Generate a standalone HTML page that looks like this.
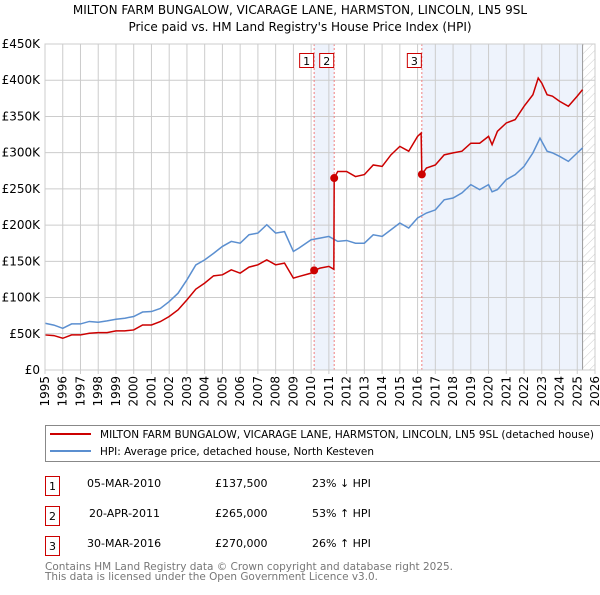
<!DOCTYPE html>
<html><head><meta charset="utf-8"><style>
body{margin:0;background:#fff;font-family:"Liberation Sans",sans-serif;}
svg text{font-family:"DejaVu Sans","Liberation Sans",sans-serif;}
</style></head><body>
<svg id="chart" width="600" height="590" viewBox="0 0 600 590" xmlns="http://www.w3.org/2000/svg">
<defs><pattern id="hatch" patternUnits="userSpaceOnUse" width="6" height="6" patternTransform="rotate(45)"><line x1="0" y1="0" x2="0" y2="6" stroke="#ccc" stroke-width="1"/></pattern></defs>
<text x="300" y="14" text-anchor="middle" font-size="12">MILTON FARM BUNGALOW, VICARAGE LANE, HARMSTON, LINCOLN, LN5 9SL</text>
<text x="300" y="31" text-anchor="middle" font-size="12">Price paid vs. HM Land Registry's House Price Index (HPI)</text>
<g id="plot"></g>
<g>
<rect x="45.5" y="425.5" width="560" height="36" fill="#fff" stroke="#888"/>
<line x1="50" y1="434" x2="91" y2="434" stroke="#cc0000" stroke-width="2"/>
<text x="100" y="438" font-size="11" textLength="494" lengthAdjust="spacingAndGlyphs">MILTON FARM BUNGALOW, VICARAGE LANE, HARMSTON, LINCOLN, LN5 9SL (detached house)</text>
<line x1="50" y1="451" x2="91" y2="451" stroke="#5b8fd0" stroke-width="2"/>
<text x="100" y="455" font-size="11" textLength="274" lengthAdjust="spacingAndGlyphs">HPI: Average price, detached house, North Kesteven</text>
</g>
<g font-size="11">
<rect x="45.5" y="476.5" width="14" height="19" fill="none" stroke="#cc0000"/><text x="52.5" y="490" text-anchor="middle">1</text>
<text x="87" y="487">05-MAR-2010</text><text x="215" y="487">£137,500</text><text x="312" y="487">23% ↓ HPI</text>
<rect x="45.5" y="506.5" width="14" height="19" fill="none" stroke="#cc0000"/><text x="52.5" y="520" text-anchor="middle">2</text>
<text x="89" y="517">20-APR-2011</text><text x="215" y="517">£265,000</text><text x="312" y="517">53% ↑ HPI</text>
<rect x="45.5" y="536.5" width="14" height="19" fill="none" stroke="#cc0000"/><text x="52.5" y="550" text-anchor="middle">3</text>
<text x="87" y="547">30-MAR-2016</text><text x="215" y="547">£270,000</text><text x="312" y="547">26% ↑ HPI</text>
</g>
<text x="45" y="570" font-size="11" fill="#777" textLength="408" lengthAdjust="spacingAndGlyphs">Contains HM Land Registry data © Crown copyright and database right 2025.</text>
<text x="45" y="580" font-size="11" fill="#777" textLength="333" lengthAdjust="spacingAndGlyphs">This data is licensed under the Open Government Licence v3.0.</text>
</svg>
<script>
const yearTicks=[1995,1996,1997,1998,1999,2000,2001,2002,2003,2004,2005,2006,2007,2008,2009,2010,2011,2012,2013,2014,2015,2016,2017,2018,2019,2020,2021,2022,2023,2024,2025,2026];
const valueTicks=[0,50000,100000,150000,200000,250000,300000,350000,400000,450000];
const valueLabels=["£0","£50K","£100K","£150K","£200K","£250K","£300K","£350K","£400K","£450K"];
const hpiDates=[1995,1995.5,1996,1996.5,1997,1997.5,1998,1998.5,1999,1999.5,2000,2000.5,2001,2001.5,2002,2002.5,2003,2003.5,2004,2004.5,2005,2005.5,2006,2006.5,2007,2007.5,2008,2008.5,2009,2009.3,2010,2010.5,2011,2011.5,2012,2012.5,2013,2013.5,2014,2014.5,2015,2015.5,2016,2016.5,2017,2017.5,2018,2018.5,2019,2019.5,2020,2020.2,2020.5,2021,2021.5,2022,2022.5,2022.9,2023.3,2023.6,2024,2024.5,2025,2025.3];
const hpiValues=[64.5,62,57.6,63.6,63.6,67,66,67.8,70,71.5,73.8,80,80.7,85,94.5,106,124.5,145,152,161,170.6,177.5,175,186.7,189,200.5,189,191,163.7,168,179.8,182,184.4,177.5,178.8,175,175,186.6,184.4,193.6,202.9,196,209.8,216.7,221,235,237.4,244.4,255.9,249,255.9,246,249,262.8,269.7,281,299.7,320,302,299.7,295,288,299.7,306.5];
const priceDates=[1995,1995.5,1996,1996.5,1997,1997.5,1998,1998.5,1999,1999.5,2000,2000.5,2001,2001.5,2002,2002.5,2003,2003.5,2004,2004.5,2005,2005.5,2006,2006.5,2007,2007.5,2008,2008.5,2009,2009.3,2010,2010.17,2010.5,2011,2011.28,2011.3,2011.5,2012,2012.5,2013,2013.5,2014,2014.5,2015,2015.5,2016,2016.2,2016.24,2016.5,2017,2017.5,2018,2018.5,2019,2019.5,2020,2020.2,2020.5,2021,2021.5,2022,2022.5,2022.8,2023,2023.3,2023.6,2024,2024.5,2025,2025.3];
const priceValues=[48.4,47.5,43.8,48.4,48.4,50.7,51.6,51.6,54,54,55.3,62.2,62.2,66.8,73.8,83,96.8,111.6,119.9,130,131.4,138.3,133.7,142,145.2,152,145.2,147.5,126.8,129,133.7,137.5,140.6,143,139,265,274,274,267,269.7,283,281,297,308.7,302,322.5,327,270,278.8,283,297,299.7,302,313,313,322.5,311,329.5,341,345.6,364,380,403,396,380,378,371,364,378,387];
const saleDates=[2010.17,2011.3,2016.24];
const saleValues=[137.5,265,270];
const saleLabels=["1","2","3"];
const NS="http://www.w3.org/2000/svg";
const X0=45,X1=595,Y0=370,Y1=44;
const xs=y=>X0+(y-1995)/(2026-1995)*(X1-X0);
const ys=v=>Y0-v/450000*(Y0-Y1);
const plot=document.getElementById('plot');
function mk(t,a){const e=document.createElementNS(NS,t);for(const k in a)e.setAttribute(k,a[k]);plot.appendChild(e);return e;}
let r=mk('rect',{x:xs(saleDates[0]),y:Y1,width:xs(saleDates[1])-xs(saleDates[0]),height:Y0-Y1,fill:'#eef3fc'});


r=mk('rect',{x:xs(saleDates[2]),y:Y1,width:xs(2025.3)-xs(saleDates[2]),height:Y0-Y1,fill:'#eef3fc'});


r=mk('rect',{x:xs(2025.3),y:Y1,width:X1-xs(2025.3),height:Y0-Y1,fill:'url(#hatch)'});


yearTicks.forEach(y=>{
 const l=mk('line',{x1:xs(y),x2:xs(y),y1:Y1,y2:Y0+4,stroke:'#ccc'});
 
 
 const t=mk('text',{x:0,y:0,'font-size':12,'text-anchor':'end',transform:`translate(${xs(y)+4},${Y0+6}) rotate(-90)`});
 t.textContent=y;
 
 
});
valueTicks.forEach((v,i)=>{
 const l=mk('line',{x1:X0,x2:X1,y1:ys(v),y2:ys(v),stroke:'#ccc'});
 
 
 const t=mk('text',{x:X0-5,y:ys(v)+4,'font-size':12,'text-anchor':'end'});
 t.textContent=valueLabels[i];
 
 
});
let ax=mk('line',{x1:xs(2025.3),x2:xs(2025.3),y1:Y1,y2:Y0,stroke:'#999'});


saleDates.forEach((d,i)=>{
 const l=mk('line',{x1:xs(d),x2:xs(d),y1:Y1,y2:Y0,stroke:'#f08080','stroke-dasharray':'2,2'});
 
 
 const b=mk('rect',{x:xs(d)-14.5,y:53.5,width:14,height:14,fill:'#fff',stroke:'#cc0000'});
 
 
 const t=mk('text',{x:xs(d)-7.5,y:65,'font-size':11,'text-anchor':'middle'});
 t.textContent=saleLabels[i];
 
 
});
const hp=mk('polyline',{points:hpiDates.map((d,i)=>xs(d)+','+ys(hpiValues[i]*1000)).join(' '),fill:'none',stroke:'#5b8fd0','stroke-width':1.5});


const pp=mk('polyline',{points:priceDates.map((d,i)=>xs(d)+','+ys(priceValues[i]*1000)).join(' '),fill:'none',stroke:'#cc0000','stroke-width':1.5});


saleDates.forEach((d,i)=>{
 const c=mk('circle',{cx:xs(d),cy:ys(saleValues[i]*1000),r:4,fill:'#cc0000'});
 
 
});
const fr=mk('rect',{x:X0,y:Y1,width:X1-X0,height:Y0-Y1,fill:'none',stroke:'#ccc'});


</script>
</body></html>
